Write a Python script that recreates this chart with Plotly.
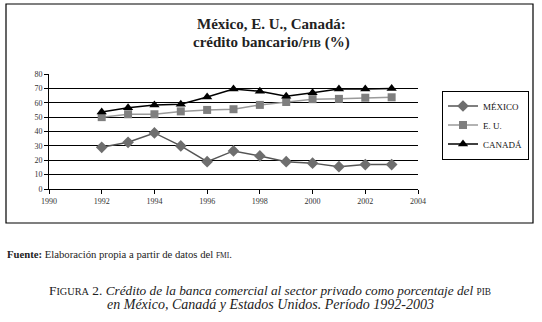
import plotly.graph_objects as go

years = [1992, 1993, 1994, 1995, 1996, 1997, 1998, 1999, 2000, 2001, 2002, 2003]
mexico = [29, 32.5, 39, 30, 19, 26.5, 23, 19, 18, 15.5, 17, 17]
eu = [50, 52, 52, 54, 55, 55.5, 58.5, 60.5, 62.5, 62.7, 63.5, 63.8]
canada = [53.5, 56.5, 58.5, 59, 64, 69.5, 68, 64.5, 67, 69.5, 69.5, 70]
series_names = ["MÉXICO", "E. U.", "CANADÁ"]
x_ticks = [1990, 1992, 1994, 1996, 1998, 2000, 2002, 2004]
y_ticks = [0, 10, 20, 30, 40, 50, 60, 70, 80]

W, H = 542, 322
L, R, T, B = 49, 418, 74, 189  # plot area in pixels


def px(x):
    return (x - L) / (R - L)


def py(y):
    return (B - y) / (B - T)


SERIF = "'Liberation Serif', 'DejaVu Serif', serif"

fig = go.Figure()
fig.add_trace(go.Scatter(x=years, y=mexico, name=series_names[0], mode="lines+markers",
                         line=dict(color="#555555", width=1.5),
                         marker=dict(symbol="diamond", size=9, color="#6e6e6e")))
fig.add_trace(go.Scatter(x=years, y=eu, name=series_names[1], mode="lines+markers",
                         line=dict(color="#9a9a9a", width=1.5),
                         marker=dict(symbol="square", size=8, color="#7f7f7f")))
fig.add_trace(go.Scatter(x=years, y=canada, name=series_names[2], mode="lines+markers",
                         line=dict(color="#000000", width=1.5),
                         marker=dict(symbol="triangle-up", size=9, color="#000000")))

fig.update_layout(
    width=W, height=H,
    margin=dict(l=L, r=W - R, t=T, b=H - B),
    paper_bgcolor="white", plot_bgcolor="white",
    font=dict(family=SERIF, color="#222222"),
    showlegend=True,
    legend=dict(x=px(442), y=py(125), xanchor="left", yanchor="middle",
                bordercolor="black", borderwidth=1, bgcolor="white",
                font=dict(size=9, family=SERIF, color="#111111"),
                itemwidth=30, tracegroupgap=0),
    xaxis=dict(range=[1990, 2004], tickvals=x_ticks, showgrid=False,
               showline=True, linecolor="black", linewidth=1,
               ticks="outside", ticklen=4, tickcolor="black",
               tickfont=dict(size=8, family=SERIF, color="#333333"), zeroline=False),
    yaxis=dict(range=[0, 80], tickvals=y_ticks, showgrid=True, gridcolor="black", gridwidth=1,
               showline=True, linecolor="black", linewidth=1,
               ticks="outside", ticklen=4, tickcolor="black",
               tickfont=dict(size=8, family=SERIF, color="#333333"), zeroline=False),
)

# outer frame
fig.add_shape(type="rect", xref="paper", yref="paper",
              x0=px(6), x1=px(533), y0=py(223), y1=py(4),
              line=dict(color="black", width=1.2), fillcolor="rgba(0,0,0,0)", layer="below")

# titles
fig.add_annotation(xref="paper", yref="paper", x=px(271), y=py(24), showarrow=False,
                   text="<b>México, E. U., Canadá:</b>", font=dict(size=15, family=SERIF, color="#222222"),
                   xanchor="center", yanchor="middle")
fig.add_annotation(xref="paper", yref="paper", x=px(271), y=py(42), showarrow=False,
                   text="<b>crédito bancario/<span style='font-size:11px'>PIB</span> (%)</b>",
                   font=dict(size=15, family=SERIF, color="#222222"),
                   xanchor="center", yanchor="middle")

# source
fig.add_annotation(xref="paper", yref="paper", x=px(5), y=py(254), showarrow=False,
                   text="<b>Fuente:</b> Elaboración propia a partir de datos del <span style='font-size:7.5px'>FMI</span>.",
                   font=dict(size=10.7, family=SERIF, color="#222222"),
                   xanchor="left", yanchor="middle")

# caption
fig.add_annotation(xref="paper", yref="paper", x=px(270), y=py(290), showarrow=False,
                   text="F<span style='font-size:10.3px'>IGURA</span> 2. <i>Crédito de la banca comercial al sector privado como porcentaje del</i> <span style='font-size:9.3px'>PIB</span>",
                   font=dict(size=13.3, family=SERIF, color="#222222"),
                   xanchor="center", yanchor="middle")
fig.add_annotation(xref="paper", yref="paper", x=px(270), y=py(304), showarrow=False,
                   text="<i>en México, Canadá y Estados Unidos. Período 1992-2003</i>",
                   font=dict(size=14, family=SERIF, color="#222222"),
                   xanchor="center", yanchor="middle")

fig.write_html("out.html", config={"displayModeBar": False},
               post_script="document.body.style.margin='0';")
